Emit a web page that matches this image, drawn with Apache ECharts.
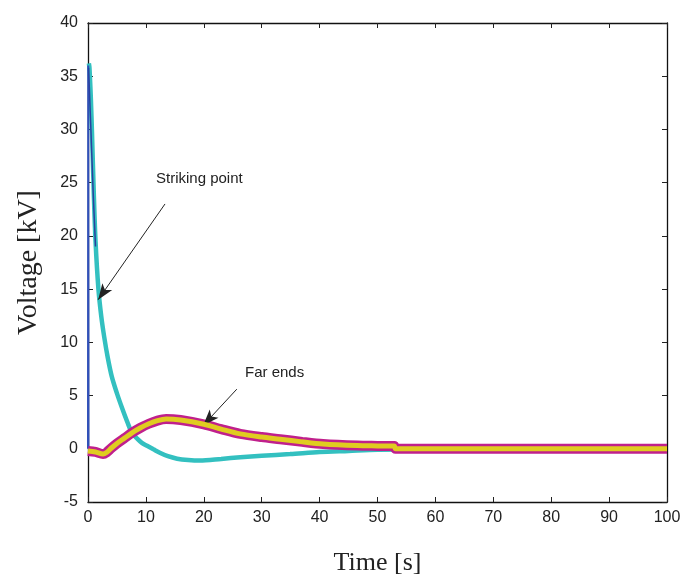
<!DOCTYPE html>
<html>
<head>
<meta charset="utf-8">
<script src="https://cdn.jsdelivr.net/npm/echarts@6/dist/echarts.min.js"></script>
<style>
  html, body { margin: 0; padding: 0; background: #fff; }
  #chart { width: 684px; height: 581px; }
</style>
</head>
<body>
<div id="chart"></div>
<script>
// x ticks / y ticks: [min, max, step]
var xTicks = [0, 100, 10];
var yTicks = [-5, 40, 5];

// striking point: fast spike (blue) and decaying curve (cyan)
var spikeBlue = [[0, 0], [0.04, 36], [0.08, 0]];
var decayBlue = [[0.1, 35.8], [0.5, 30], [0.9, 24], [1.3, 19]];
var strikeCyan = [
  [0.15, 36.2], [0.25, 35.8], [0.5, 32.8], [0.7, 29.5], [1.0, 24], [1.3, 19.5],
  [1.8, 15], [2.3, 12.4], [2.8, 10.5], [3.4, 8.6], [4.1, 6.8], [5.0, 5.2],
  [5.9, 3.8], [6.8, 2.5], [7.6, 1.5], [8.5, 0.95], [9.3, 0.55], [10.2, 0.28],
  [11.3, -0.05], [12.4, -0.37], [13.8, -0.7], [15.4, -0.93], [17.3, -1.05], [19.3, -1.1],
  [23, -0.95], [26.3, -0.8], [30, -0.65], [34.9, -0.5], [40, -0.3], [45, -0.2],
  [50, -0.1], [60, -0.05], [100, -0.05]
];

// far ends
var farEnds = [
  [0, -0.2], [1.3, -0.3], [2.6, -0.5], [3.2, -0.35], [4, 0.05], [5, 0.5], [6.3, 1.0],
  [7.6, 1.5], [9, 1.95], [10.5, 2.35], [12, 2.65], [13.5, 2.8], [16, 2.7], [20, 2.3],
  [23, 1.85], [26.3, 1.4], [30, 1.1], [33.2, 0.9], [37, 0.65], [40.6, 0.45], [46.5, 0.3],
  [50, 0.27], [52.7, 0.25], [52.9, 0.25], [53.1, 0], [53.3, 0], [60, 0], [100, 0]
];

// annotations: [tail, head] in data coords
var strikeArrow = [[13.3, 23.0], [1.75, 14.0]];
var farArrow = [[25.7, 5.6], [19.9, 2.2]];

var myChart = echarts.init(document.getElementById('chart'));

function arrow(pts) {
  return {
    silent: true,
    symbol: ['none', 'arrow'],
    symbolSize: [9, 16],
    label: { show: false },
    lineStyle: { color: '#222', width: 1, type: 'solid' },
    data: [[{ coord: pts[0] }, { coord: pts[1] }]]
  };
}

var tickStyle = { show: true, inside: true, length: 5, lineStyle: { color: '#222' } };
var lineAxis = { show: true, onZero: false, lineStyle: { color: '#111', width: 1.3 } };
var labelStyle = { color: '#222', fontSize: 16, fontFamily: 'Liberation Sans, Arial' };

myChart.setOption({
  animation: false,
  grid: { left: 88, right: 17, top: 23, bottom: 74 },
  xAxis: [{
    type: 'value', min: xTicks[0], max: xTicks[1], interval: xTicks[2],
    axisLine: lineAxis, axisTick: tickStyle, splitLine: { show: false },
    axisLabel: Object.assign({ margin: 8 }, labelStyle),
    name: 'Time [s]', nameLocation: 'middle', nameGap: 48,
    nameTextStyle: { color: '#222', fontSize: 26, fontFamily: 'Liberation Serif, Times New Roman' }
  }, {
    type: 'value', position: 'top', min: xTicks[0], max: xTicks[1], interval: xTicks[2],
    axisLine: lineAxis, axisTick: tickStyle, axisLabel: { show: false }, splitLine: { show: false }
  }],
  yAxis: [{
    type: 'value', min: yTicks[0], max: yTicks[1], interval: yTicks[2],
    axisLine: lineAxis, axisTick: tickStyle, splitLine: { show: false },
    axisLabel: Object.assign({ margin: 10 }, labelStyle),
    name: 'Voltage [kV]', nameLocation: 'middle', nameGap: 45, nameRotate: 90,
    nameTextStyle: { color: '#222', fontSize: 28, fontFamily: 'Liberation Serif, Times New Roman' }
  }, {
    type: 'value', position: 'right', min: yTicks[0], max: yTicks[1], interval: yTicks[2],
    axisLine: lineAxis, axisTick: tickStyle, axisLabel: { show: false }, splitLine: { show: false }
  }],
  series: [
    {
      name: 'cyan', type: 'line', data: strikeCyan, smooth: 0.3, showSymbol: false,
      lineStyle: { color: '#33c0c0', width: 4.5 }, z: 2,
      markLine: arrow(strikeArrow)
    },
    {
      name: 'spike', type: 'line', data: spikeBlue, showSymbol: false,
      lineStyle: { color: '#3050b8', width: 2 }, z: 3
    },
    {
      name: 'decay', type: 'line', data: decayBlue, showSymbol: false, smooth: 0.3,
      lineStyle: { color: '#2a3fa0', width: 1.5 }, z: 3
    },
    {
      name: 'far1', type: 'line', data: farEnds, smooth: 0.3, showSymbol: false,
      lineStyle: { color: '#c0208c', width: 10 }, z: 4,
      markLine: arrow(farArrow)
    },
    {
      name: 'far2', type: 'line', data: farEnds, smooth: 0.3, showSymbol: false,
      lineStyle: { color: '#e0cc20', width: 5 }, z: 5
    }
  ],
  graphic: [
    { type: 'text', left: 156, top: 171,
      style: { text: 'Striking point', fill: '#222', fontSize: 15, fontFamily: 'Liberation Sans, Arial' } },
    { type: 'text', left: 245, top: 365,
      style: { text: 'Far ends', fill: '#222', fontSize: 15, fontFamily: 'Liberation Sans, Arial' } }
  ]
});
</script>
</body>
</html>
